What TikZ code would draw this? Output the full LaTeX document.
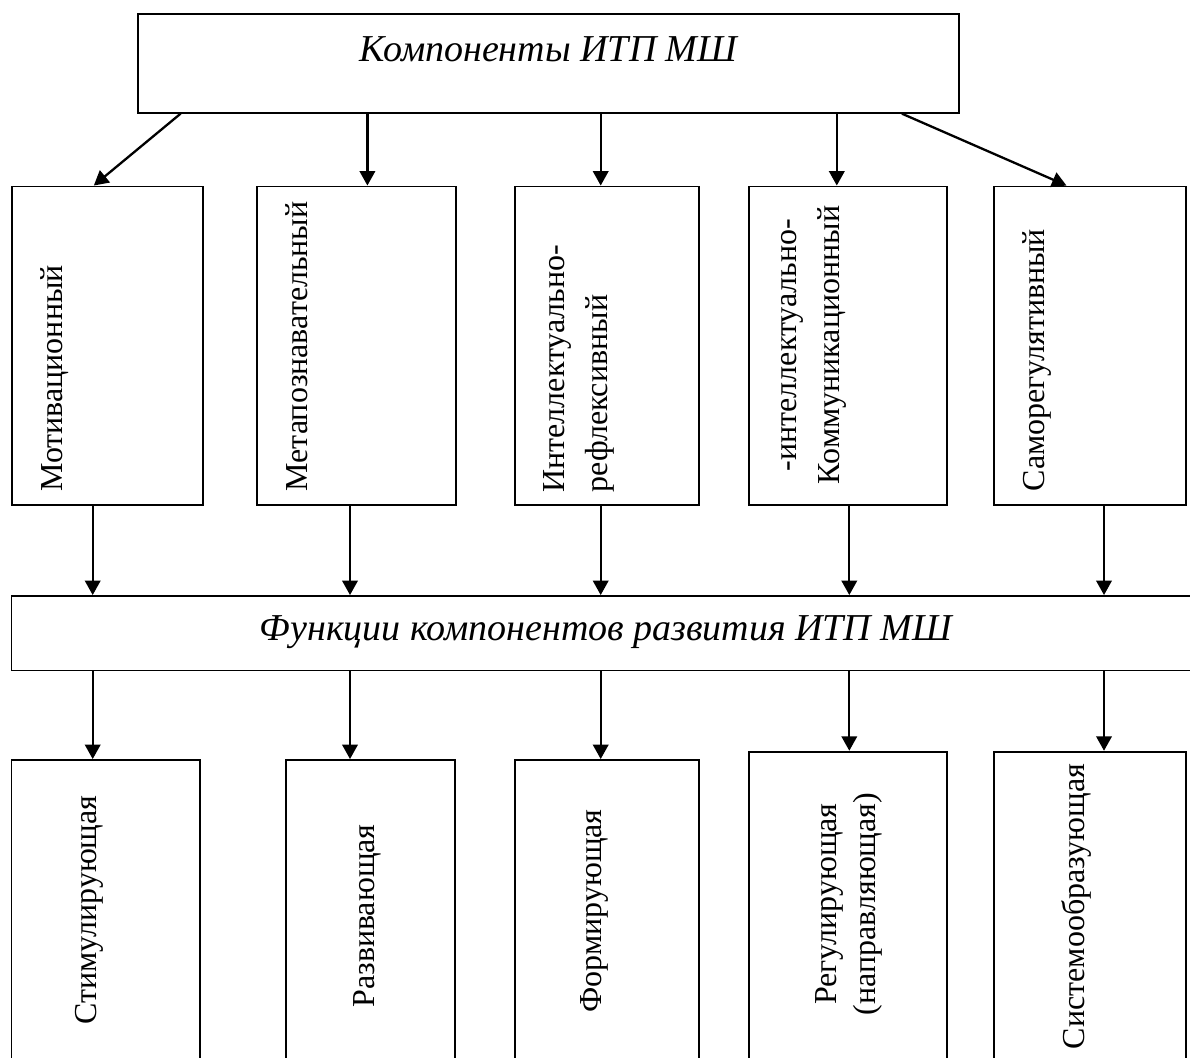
\documentclass[tikz,border=0pt]{standalone}
\usepackage{fontspec}
\setmainfont{Liberation Serif}
\usepackage{tikz}
\usetikzlibrary{arrows.meta, positioning, calc}

\begin{document}
\begin{tikzpicture}[x=1pt, y=-1pt,
    box/.style={draw, line width=1.9pt, inner sep=0pt},
    vtext/.style={rotate=90, inner sep=0pt, font=\fontsize{32}{43}\selectfont},
    title/.style={inner sep=0pt, font=\fontsize{38}{44}\selectfont\itshape},
    arr/.style={line width=2.3pt, -{Triangle[length=14.5pt,width=15.5pt]}}]
    \useasboundingbox (0,0) rectangle (1190,1057);
    \fill[white] (0,0) rectangle (1190,1057);

    % Top box
    \node[box, minimum width=821.5, minimum height=98.7] (comp) at (548.5,63.35) {};
    \node[title, anchor=base] (compT) at (548.5,61) {Компоненты ИТП МШ};

    % Components
    \foreach \n/\cx/\w in {motiv/107.15/191.1, metap/356.45/198.3, intel/607/184,
                           kommun/848.15/198.3, samor/1089.85/191.7} {
      \node[box, minimum width=\w, minimum height=318.5] (\n) at (\cx,345.75) {};
    }
    \node[vtext, anchor=base west] (motivT) at (62.7,491.7) {Мотивационный};
    \node[vtext, anchor=base west] (metapT) at (307.3,491.7) {Метапознавательный};
    \node[vtext, anchor=north west, align=left] (intelT) at (543.3,492.7)
      {Интеллектуально-\\рефлексивный};
    \node[vtext, anchor=north, align=center] (kommunT) at (781.7,345)
      {-интеллектуально-\\Коммуникационный};
    \node[vtext, anchor=base west] (samorT) at (1044,491.5) {Саморегулятивный};

    % Functions bar
    \node[box, minimum width=1188.5, minimum height=74.5] (func) at (605.75,633.25) {};
    \node[title, anchor=base] (funcT) at (606,640) {Функции компонентов развития ИТП МШ};

    % Functions
    \foreach \n/\cx/\w/\cy/\h in {stim/105.65/188.3/912.5/305, razv/370.85/169.1/912.5/305,
                                  form/607/184/912.5/305, regul/848/198/908.35/313.3,
                                  sist/1089.85/191.7/908.35/313.3} {
      \node[box, minimum width=\w, minimum height=\h] (\n) at (\cx,\cy) {};
    }
    \node[vtext, anchor=base] (stimT) at (96,910) {Стимулирующая};
    \node[vtext, anchor=base] (razvT) at (374.5,916) {Развивающая};
    \node[vtext, anchor=base] (formT) at (601,911) {Формирующая};
    \node[vtext, anchor=north, align=center, font=\fontsize{32}{39}\selectfont] (regulT) at (815,904)
      {Регулирующая\\(направляющая)};
    \node[vtext, anchor=base] (sistT) at (1084,906.5) {Системообразующая};

    % Arrow positions
    \coordinate (t1) at (180.6,0);
    \coordinate (b1) at (93.8,0);
    \coordinate (t2) at (367.4,0);
    \coordinate (t3) at (600.7,0);
    \coordinate (t4) at (836.8,0);
    \coordinate (t5) at (901.9,0);
    \coordinate (b5) at (1066.5,0);

    % Arrows from the top box
    \draw[arr] (comp.south -| t1) -- (motiv.north -| b1);
    \draw[arr] (comp.south -| t2) -- (metap.north -| t2);
    \draw[arr] (comp.south -| t3) -- (intel.north -| t3);
    \draw[arr] (comp.south -| t4) -- (kommun.north -| t4);
    \draw[arr] (comp.south -| t5) -- (samor.north -| b5);

    % Arrows through the functions bar
    \foreach \i/\up/\lo/\x in {1/motiv/stim/92.7, 2/metap/razv/350, 3/intel/form/600.7,
                               4/kommun/regul/849.3, 5/samor/sist/1104} {
      \coordinate (x\i) at (\x,0);
      \draw[arr] (\up.south -| x\i) -- (func.north -| x\i);
      \draw[arr] (func.south -| x\i) -- (\lo.north -| x\i);
    }
\end{tikzpicture}
\end{document}
